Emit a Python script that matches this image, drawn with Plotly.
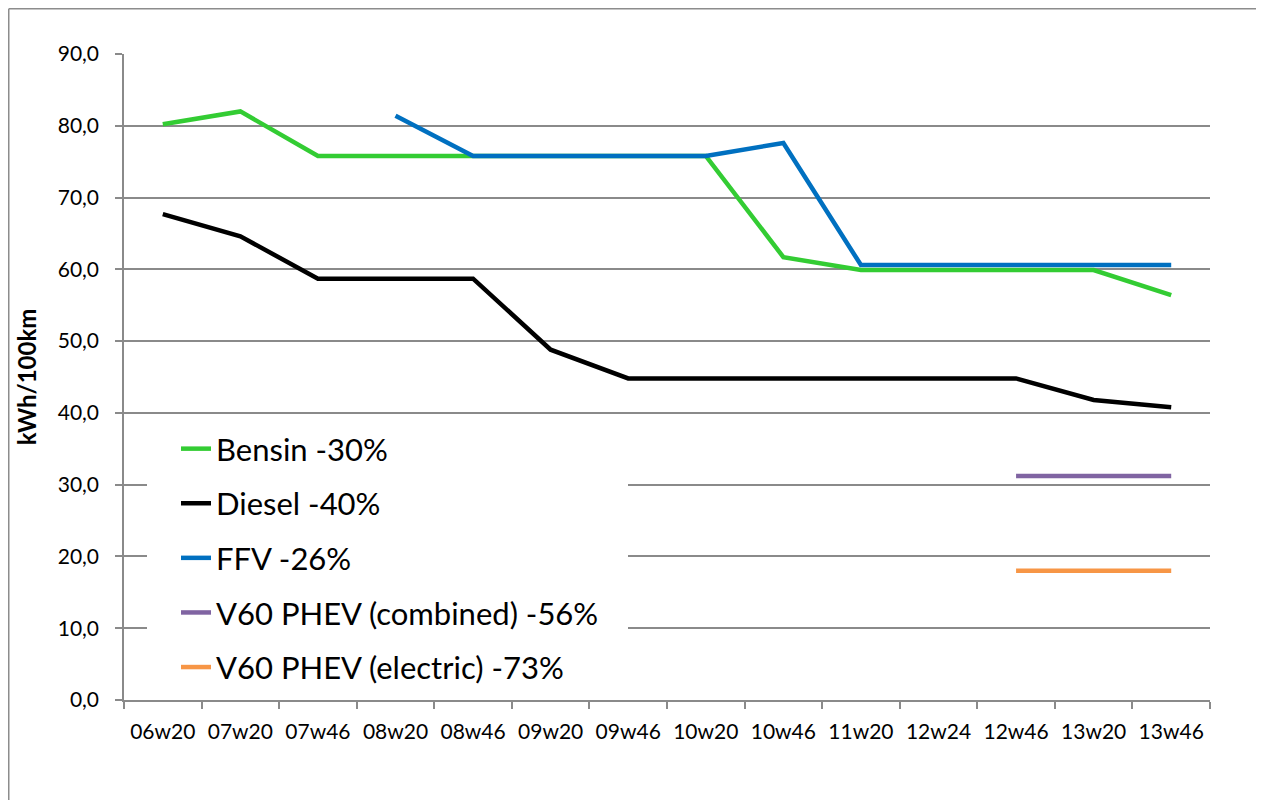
import plotly.graph_objects as go

categories = ["06w20", "07w20", "07w46", "08w20", "08w46", "09w20", "09w46",
              "10w20", "10w46", "11w20", "12w24", "12w46", "13w20", "13w46"]

bensin = [80.2, 82.0, 75.8, 75.8, 75.8, 75.8, 75.8, 75.8, 61.7, 59.9, 59.9, 59.9, 59.9, 56.4]
diesel = [67.7, 64.6, 58.7, 58.7, 58.7, 48.8, 44.8, 44.8, 44.8, 44.8, 44.8, 44.8, 41.8, 40.8]
ffv = [None, None, None, 81.4, 75.8, 75.8, 75.8, 75.8, 77.6, 60.6, 60.6, 60.6, 60.6, 60.6]
v60_combined = [None] * 11 + [31.2, 31.2, 31.2]
v60_electric = [None] * 11 + [18.0, 18.0, 18.0]

series_names = ["Bensin -30%", "Diesel -40%", "FFV -26%",
                "V60 PHEV (combined) -56%", "V60 PHEV (electric) -73%"]
series_values = [bensin, diesel, ffv, v60_combined, v60_electric]
series_colors = ["#33CC33", "#000000", "#0070C0", "#8064A2", "#F79646"]

y_ticks = [0, 10, 20, 30, 40, 50, 60, 70, 80, 90]

FONT = "Lato, 'Open Sans', sans-serif"
GRID = "#8A8A8A"

fig = go.Figure()
for i, (name, vals, col) in enumerate(zip(series_names, series_values, series_colors)):
    fig.add_trace(go.Scatter(
        x=categories, y=vals, name=name, mode="lines",
        line=dict(color=col, width=4.5), legendgroup=str(i),
        connectgaps=False,
    ))

W, H = 1256, 792
ml, mt = 116, 46
pw, ph = 1086, 646
mr, mb = W - ml - pw, H - mt - ph

def px2x(px):
    return (px - ml) / pw

def py2y(py):
    return (mt + ph - py) / ph

fig.update_layout(
    width=W, height=H, autosize=False,
    margin=dict(l=ml, r=mr, t=mt, b=mb, pad=0),
    paper_bgcolor="white", plot_bgcolor="white",
    separators=",.",
    font=dict(family=FONT, color="#000000"),
    showlegend=True,
    legend=dict(
        x=px2x(168), y=py2y(414), xanchor="left", yanchor="top",
        bgcolor="rgba(255,255,255,0)", borderwidth=0,
        font=dict(family=FONT, size=31, color="#000000"),
        tracegroupgap=11.3, traceorder="grouped",
        itemwidth=30,
    ),
    xaxis=dict(
        type="category", range=[-0.5, 13.5],
        showgrid=False, zeroline=False,
        showline=True, linecolor=GRID, linewidth=1.5,
        ticks="outside", ticklen=7, tickcolor=GRID, tickwidth=1.5,
        tickson="boundaries",
        tickfont=dict(family=FONT, size=21, color="#000000"),
        ticklabelstandoff=12,
        fixedrange=True,
    ),
    yaxis=dict(
        range=[0, 90], tickvals=y_ticks, tickformat=".1f",
        showgrid=True, gridcolor=GRID, gridwidth=1.5,
        zeroline=False,
        showline=True, linecolor=GRID, linewidth=1.5,
        ticks="outside", ticklen=7, tickcolor=GRID, tickwidth=1.5,
        tickfont=dict(family=FONT, size=21, color="#000000"),
        ticklabelstandoff=12,
        title=dict(text="<b>kWh/100km</b>", font=dict(family=FONT, size=24, color="#000000"),
                   standoff=14),
        fixedrange=True,
    ),
    shapes=[
        dict(
            type="line", xref="paper", yref="paper",
            x0=px2x(0.75), x1=px2x(0.75), y0=py2y(H), y1=py2y(0.75),
            line=dict(color="#8C8C8C", width=1.5), layer="below",
        ),
        dict(
            type="line", xref="paper", yref="paper",
            x0=px2x(0.75), x1=px2x(W), y0=py2y(0.75), y1=py2y(0.75),
            line=dict(color="#8C8C8C", width=1.5), layer="below",
        ),
        dict(
            type="rect", xref="paper", yref="paper",
            x0=px2x(139), x1=px2x(620), y0=py2y(684), y1=py2y(417),
            line=dict(width=0), fillcolor="white",
            layer="above",
        ),
    ],
)

fig.write_html("out.html", post_script="document.body.style.overflow='hidden';")
